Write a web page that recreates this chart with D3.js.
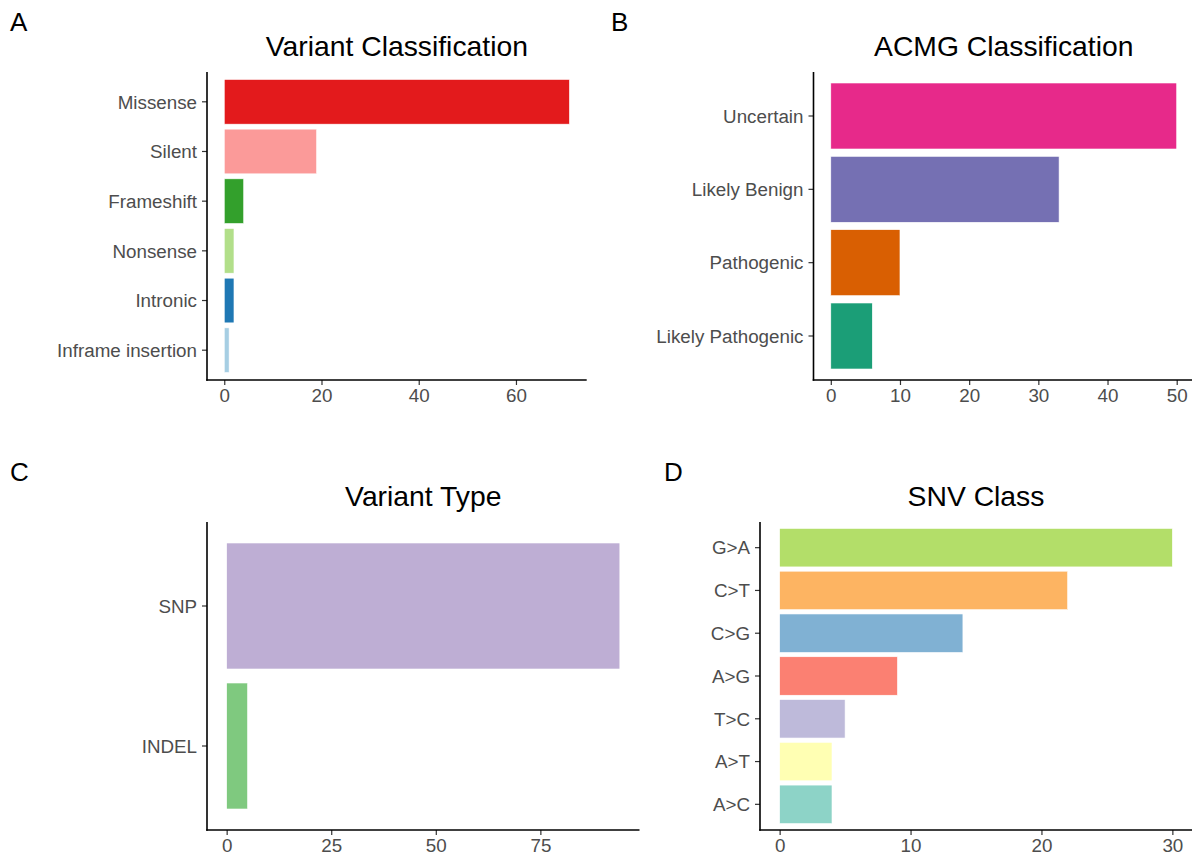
<!DOCTYPE html>
<html>
<head>
<meta charset="utf-8">
<script src="https://cdn.jsdelivr.net/npm/d3@7"></script>
<style>
  body { margin: 0; background: #fff; }
  text { font-family: "Liberation Sans", Arial, sans-serif; }
</style>
</head>
<body>
<svg id="chart" width="1192" height="854"></svg>
<script>
// panel A: variant classification
var classLabels = ["Missense", "Silent", "Frameshift", "Nonsense", "Intronic", "Inframe insertion"]
var classCounts = [71, 19, 4, 2, 2, 1]
var classColors = ["#E31A1C", "#FB9A99", "#33A02C", "#B2DF8A", "#1F78B4", "#A6CEE3"]
var classTicks = [0, 20, 40, 60]

// panel B: ACMG
var acmgLabels = ["Uncertain", "Likely Benign", "Pathogenic", "Likely Pathogenic"]
var acmgCounts = [50, 33, 10, 6]
var acmgColors = ["#E7298A", "#7570B3", "#D95F02", "#1B9E77"]
var acmgTicks = [0, 10, 20, 30, 40, 50]

// panel C: variant type
var typeLabels = ["SNP", "INDEL"]
var typeCounts = [94, 5]
var typeColors = ["#BEAED4", "#7FC97F"]
var typeTicks = [0, 25, 50, 75]

// panel D: SNV class
var snvLabels = ["G>A", "C>T", "C>G", "A>G", "T>C", "A>T", "A>C"]
var snvCounts = [30, 22, 14, 9, 5, 4, 4]
var snvColors = ["#B3DE69", "#FDB462", "#80B1D3", "#FB8072", "#BEBADA", "#FFFFB3", "#8DD3C7"]
var snvTicks = [0, 10, 20, 30]

var svg = d3.select("#chart")

var panels = [
	{tag: "A", tagX: 10, tagY: 31, title: "Variant Classification", labels: classLabels, counts: classCounts, colors: classColors, ticks: classTicks, box: [207, 586.7, 72, 380]},
	{tag: "B", tagX: 611, tagY: 31, title: "ACMG Classification", labels: acmgLabels, counts: acmgCounts, colors: acmgColors, ticks: acmgTicks, box: [813.5, 1194, 72, 380]},
	{tag: "C", tagX: 10, tagY: 481, title: "Variant Type", labels: typeLabels, counts: typeCounts, colors: typeColors, ticks: typeTicks, box: [207, 639.5, 522, 830]},
	{tag: "D", tagX: 664, tagY: 481, title: "SNV Class", labels: snvLabels, counts: snvCounts, colors: snvColors, ticks: snvTicks, box: [760, 1192, 522, 830]}
]

panels.forEach(drawPanel)

function drawPanel(p){
	var x0 = p.box[0], x1 = p.box[1], y0 = p.box[2], y1 = p.box[3]
	var max = d3.max(p.counts)

	// ggplot default expansion: 5% each side
	var x = d3.scaleLinear().domain([-0.05 * max, 1.05 * max]).range([x0, x1])
	var y = d3.scaleBand().domain(p.labels).range([y0, y1]).paddingInner(0.1).paddingOuter(0.15)

	svg.append("text")
		.attr("x", p.tagX).attr("y", p.tagY)
		.attr("font-size", 26).attr("fill", "#000")
		.text(p.tag)

	svg.append("text")
		.attr("x", (x0 + x1) / 2).attr("y", y0 - 16)
		.attr("text-anchor", "middle")
		.attr("font-size", 28.3).attr("fill", "#000")
		.text(p.title)

	var g = svg.append("g")

	g.selectAll(".bar")
		.data(p.labels)
		.enter()
		.append("rect")
		.attr("class", "bar")
		.attr("x", x(0))
		.attr("y", function(d){ return y(d) })
		.attr("width", function(d, i){ return x(p.counts[i]) - x(0) })
		.attr("height", y.bandwidth())
		.attr("fill", function(d, i){ return p.colors[i] })
		.attr("stroke", "#fff")
		.attr("stroke-width", 0.6)

	var xAxis = g.append("g")
		.attr("transform", "translate(0," + y1 + ")")
		.call(d3.axisBottom(x).tickValues(p.ticks).tickSize(5).tickPadding(4).tickFormat(d3.format("d")))
	var yAxis = g.append("g")
		.attr("transform", "translate(" + x0 + ",0)")
		.call(d3.axisLeft(y).tickSize(5).tickPadding(5))

	;[xAxis, yAxis].forEach(function(a){
		a.select(".domain").remove()
		a.selectAll(".tick line").attr("stroke", "#333").attr("stroke-width", 1.2)
		a.selectAll(".tick text")
			.attr("font-size", 18.8)
			.attr("fill", "#4D4D4D")
			.style("font-family", "'Liberation Sans', Arial, sans-serif")
	})
	yAxis.selectAll(".tick text").attr("dy", "0.36em")

	// axis lines, theme_classic style
	g.append("line")
		.attr("x1", x0).attr("x2", x0).attr("y1", y0).attr("y2", y1 + 0.8)
		.attr("stroke", "#000").attr("stroke-width", 1.6)
	g.append("line")
		.attr("x1", x0 - 0.8).attr("x2", x1).attr("y1", y1).attr("y2", y1)
		.attr("stroke", "#000").attr("stroke-width", 1.6)
}
</script>
</body>
</html>
